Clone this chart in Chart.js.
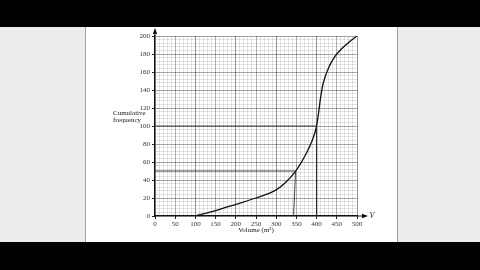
<!DOCTYPE html>
<html>
<head>
<meta charset="utf-8">
<script src="https://cdn.jsdelivr.net/npm/chart.js@4.4.1/dist/chart.umd.min.js"></script>
<style>
  html, body { margin: 0; padding: 0; background: #000; }
  #wrap { width: 480px; height: 270px; }
</style>
</head>
<body>
<div id="wrap"><canvas id="myChart" width="480" height="270"></canvas></div>
<script>
// cumulative frequency curve
var volume  = [100, 150, 200, 250, 300, 325, 350, 375, 390, 400, 405, 410, 415, 420, 430, 445, 460, 480, 500];
var cumFreq = [0,   6,   13,  20,  29,  38,  51,  70,  85,  100, 115, 132, 145, 153, 165, 177, 185, 193, 200];

// reading lines drawn on the graph
var lowerLineX = [0, 348, 343];
var lowerLineY = [50, 50, 0];
var medianLineX = [0, 400, 400];
var medianLineY = [100, 100, 0];

var xTickLabels = [0, 50, 100, 150, 200, 250, 300, 350, 400, 450, 500];
var yTickLabels = [0, 20, 40, 60, 80, 100, 120, 140, 160, 180, 200];

function pts(xs, ys){
    var out = [];
    for(var i=0; i<xs.length; i++){ out.push({x: xs[i], y: ys[i]}); }
    return out;
}

var serif = '"Liberation Serif", "DejaVu Serif", serif';

var pagePlugin = {
    id: 'page',
    beforeDraw: function(chart){
        var c = chart.ctx;
        c.save();
        c.fillStyle = '#ececec';
        c.fillRect(0, 0, 480, 270);
        c.fillStyle = '#ffffff';
        c.fillRect(86, 27, 311, 215);
        c.strokeStyle = '#a0a0a0';
        c.lineWidth = 1;
        c.beginPath();
        c.moveTo(85.5, 27); c.lineTo(85.5, 242);
        c.moveTo(397.5, 27); c.lineTo(397.5, 242);
        c.stroke();
        c.fillStyle = '#000';
        c.fillRect(0, 0, 480, 27);
        c.fillRect(0, 242, 480, 28);
        c.restore();
    },
    afterDraw: function(chart){
        var c = chart.ctx;
        var xs = chart.scales.x, ys = chart.scales.y;
        var x0 = xs.getPixelForValue(0), y0 = ys.getPixelForValue(0);
        var yTop = ys.getPixelForValue(200), xEnd = xs.getPixelForValue(500);
        c.save();
        c.strokeStyle = '#111';
        c.fillStyle = '#111';
        c.lineWidth = 1.2;
        c.beginPath();
        c.moveTo(x0, yTop); c.lineTo(x0, 30);
        c.moveTo(xEnd, y0); c.lineTo(366, y0);
        c.stroke();
        c.beginPath();
        c.moveTo(x0, 28); c.lineTo(x0 - 2.2, 34); c.lineTo(x0 + 2.2, 34); c.closePath();
        c.fill();
        c.beginPath();
        c.moveTo(368, y0); c.lineTo(362, y0 - 2.2); c.lineTo(362, y0 + 2.2); c.closePath();
        c.fill();

        c.fillStyle = '#222';
        c.font = '7px ' + serif;
        c.textAlign = 'left';
        c.textBaseline = 'middle';
        c.fillText('Cumulative', 113, 113);
        c.fillText('frequency', 113, 120);
        c.textAlign = 'center';
        c.fillText('Volume (m\u00B3)', xs.getPixelForValue(250), 230);
        c.font = 'italic 8px ' + serif;
        c.fillText('V', 372, y0);
        c.restore();
    }
};

var ctx = document.getElementById('myChart').getContext('2d');

var myChart = new Chart(ctx, {
    type: 'scatter',
    data: {
        datasets: [
        {
            data: pts(lowerLineX, lowerLineY),
            showLine: true,
            borderColor: '#2a2a2a',
            borderWidth: 0.9,
            pointRadius: 0,
            tension: 0
        },
        {
            data: pts(medianLineX, medianLineY),
            showLine: true,
            borderColor: '#2a2a2a',
            borderWidth: 0.9,
            pointRadius: 0,
            tension: 0
        },
        {
            data: pts(volume, cumFreq),
            showLine: true,
            borderColor: '#111',
            borderWidth: 1.3,
            pointRadius: 0,
            cubicInterpolationMode: 'monotone'
        }
        ]
    },
    options: {
        responsive: false,
        devicePixelRatio: 1,
        animation: false,
        layout: { padding: { left: 0, right: 123, top: 36, bottom: 0 } },
        plugins: { legend: { display: false }, tooltip: { enabled: false } },
        scales: {
            x: {
                type: 'linear',
                min: 0, max: 500,
                afterFit: function(scale){ scale.height = 54; },
                ticks: {
                    stepSize: 10,
                    autoSkip: false,
                    maxTicksLimit: 100,
                    maxRotation: 0,
                    padding: 1,
                    color: '#333',
                    font: { family: serif, size: 7 },
                    callback: function(v){ return xTickLabels.indexOf(v) >= 0 ? String(v) : ''; }
                },
                grid: {
                    color: function(c){
                        var v = c.tick.value;
                        if (v % 100 === 0) return 'rgba(0,0,0,0.42)';
                        if (v % 50 === 0) return 'rgba(0,0,0,0.3)';
                        return 'rgba(0,0,0,0.1)';
                    },
                    tickColor: function(c){ return c.tick.value % 50 === 0 ? '#222' : 'rgba(0,0,0,0)'; },
                    tickLength: 3,
                    lineWidth: 1
                },
                border: { color: '#111', width: 1.2 }
            },
            y: {
                type: 'linear',
                min: 0, max: 200,
                afterFit: function(scale){ scale.width = 155; },
                ticks: {
                    stepSize: 4,
                    autoSkip: false,
                    maxTicksLimit: 100,
                    padding: 2,
                    color: '#333',
                    font: { family: serif, size: 7 },
                    callback: function(v){ return yTickLabels.indexOf(v) >= 0 ? String(v) : ''; }
                },
                grid: {
                    color: function(c){
                        return c.tick.value % 20 === 0 ? 'rgba(0,0,0,0.35)' : 'rgba(0,0,0,0.1)';
                    },
                    tickColor: function(c){ return c.tick.value % 20 === 0 ? '#222' : 'rgba(0,0,0,0)'; },
                    tickLength: 3,
                    lineWidth: 1
                },
                border: { color: '#111', width: 1.2 }
            }
        }
    },
    plugins: [pagePlugin]
});
</script>
</body>
</html>
